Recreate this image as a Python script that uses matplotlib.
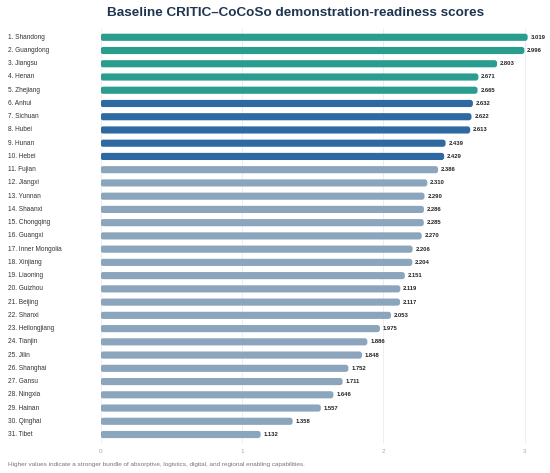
import matplotlib
matplotlib.use("Agg")
import matplotlib.pyplot as plt
from matplotlib.patches import FancyBboxPatch

plt.rcParams['font.family'] = ['Liberation Sans', 'DejaVu Sans']

provinces = ["Shandong", "Guangdong", "Jiangsu", "Henan", "Zhejiang", "Anhui", "Sichuan",
             "Hubei", "Hunan", "Hebei", "Fujian", "Jiangxi", "Yunnan", "Shaanxi", "Chongqing",
             "Guangxi", "Inner Mongolia", "Xinjiang", "Liaoning", "Guizhou", "Beijing", "Shanxi",
             "Heilongjiang", "Tianjin", "Jilin", "Shanghai", "Gansu", "Ningxia", "Hainan",
             "Qinghai", "Tibet"]
scores = [3.019, 2.996, 2.803, 2.671, 2.665, 2.632, 2.622, 2.613, 2.439, 2.429, 2.386,
          2.310, 2.290, 2.286, 2.285, 2.270, 2.206, 2.204, 2.151, 2.119, 2.117, 2.053,
          1.975, 1.886, 1.848, 1.752, 1.711, 1.646, 1.557, 1.358, 1.132]
tiers = ["top"] * 5 + ["mid"] * 5 + ["rest"] * 21
tier_colors = {"top": "#2a9d8f", "mid": "#2e6aa1", "rest": "#8ba5bd"}

W, H = 550, 473
fig = plt.figure(figsize=(5.5, 4.73), dpi=100)
# axes: x from 100.5 px (0) to ~536 px, y from 28.8 px to 443 px
ax = fig.add_axes([100.5 / W, 1 - 443 / H, 435.8 / W, (443 - 28.8) / H])

ypos = list(range(len(scores)))
bars = ax.barh(ypos, scores, height=0.54, color=[tier_colors[t] for t in tiers])
ax.set_xlim(0, 3.08)
ax.set_ylim(30.64, -0.64)

# swap plain rectangles for rounded ones (aspect = px per x unit / px per y unit)
for b in bars:
    x, y = b.get_x(), b.get_y()
    w, h = b.get_width(), b.get_height()
    rounded = FancyBboxPatch((x, y), w, h, boxstyle="round,pad=0,rounding_size=0.019",
                             mutation_aspect=10.7, facecolor=b.get_facecolor(),
                             edgecolor="none", zorder=2)
    b.set_visible(False)
    ax.add_patch(rounded)

for y, v in zip(ypos, scores):
    ax.text(v + 0.02, y, f"{v:.3f}", va="center", ha="left", fontsize=4.2,
            fontweight="bold", color="#222222")

ax.set_xticks([0, 1, 2, 3])
ax.set_xticklabels(["0", "1", "2", "3"])
ax.tick_params(axis="x", length=0, labelsize=4.5, labelcolor="#aaaaaa", pad=4)
ax.set_yticks([])
ax.grid(axis="x", color="#e9eff5", linewidth=0.7, zorder=0)
ax.set_axisbelow(True)
for s in ax.spines.values():
    s.set_visible(False)

for y, name in zip(ypos, provinces):
    ax.annotate(f"{y + 1}. {name}", xy=(7.5 / W, y), xycoords=("figure fraction", "data"),
                ha="left", va="center", fontsize=4.7, color="#333333")

fig.text(295.5 / W, 1 - 13.5 / H, "Baseline CRITIC\u2013CoCoSo demonstration-readiness scores",
         ha="center", va="center", fontsize=9.7, fontweight="bold", color="#1f3550")
fig.text(7.7 / W, 1 - 464 / H,
         "Higher values indicate a stronger bundle of absorptive, logistics, digital, and regional enabling capabilities.",
         ha="left", va="center", fontsize=4.6, color="#777777")

fig.savefig("out.png", dpi=100, facecolor="white")
